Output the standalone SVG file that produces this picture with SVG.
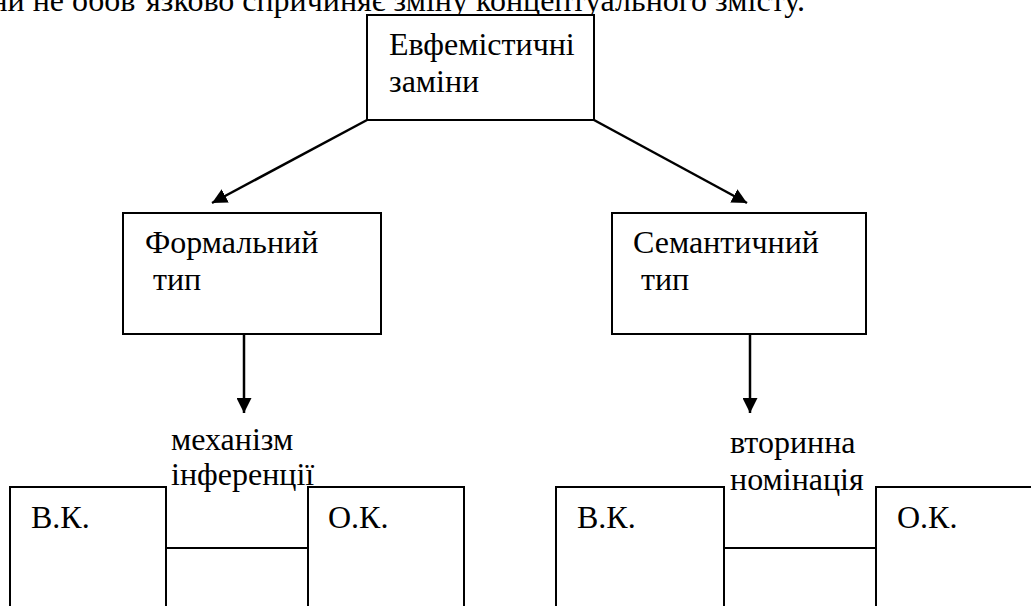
<svg xmlns="http://www.w3.org/2000/svg" width="1031" height="606" viewBox="0 0 1031 606">
  <style>
    .box { fill: #ffffff; stroke: #000000; stroke-width: 2; }
    .t { font-family: "Liberation Serif", "Times New Roman", serif; font-size: 32px; fill: #000000; }
    .ln { stroke: #000000; stroke-width: 2.5; fill: none; }
    .thin { stroke: #000000; stroke-width: 2; fill: none; }
  </style>
  <defs>
    <marker id="ah" viewBox="0 0 10 10" refX="10" refY="5" markerWidth="6" markerHeight="6" markerUnits="strokeWidth" orient="auto">
      <path d="M0,0 L10,5 L0,10 Z" fill="#000000"/>
    </marker>
  </defs>
  <rect width="1031" height="606" fill="#ffffff"/>

  <text class="t" x="805" y="11" text-anchor="end">ни не обов’язково спричиняє зміну концептуального змісту.</text>

  <g id="node-evfem">
    <rect class="box" x="367" y="15" width="227" height="105"/>
    <text class="t" x="389" y="55">Евфемістичні</text>
    <text class="t" x="389" y="92">заміни</text>
  </g>

  <g id="node-formal">
    <rect class="box" x="123" y="213" width="258" height="121"/>
    <text class="t" x="145" y="253">Формальний</text>
    <text class="t" x="145" y="290" xml:space="preserve"> тип</text>
  </g>

  <g id="node-semantic">
    <rect class="box" x="612" y="213" width="254" height="121"/>
    <text class="t" x="633" y="253">Семантичний</text>
    <text class="t" x="633" y="290" xml:space="preserve"> тип</text>
  </g>

  <g id="node-vk1">
    <rect class="box" x="10" y="487" width="156" height="140"/>
    <text class="t" x="31" y="528">В.К.</text>
  </g>
  <g id="node-ok1">
    <rect class="box" x="308" y="487" width="156" height="140"/>
    <text class="t" x="328" y="528">О.К.</text>
  </g>
  <g id="node-vk2">
    <rect class="box" x="556" y="487" width="168" height="140"/>
    <text class="t" x="577" y="528">В.К.</text>
  </g>
  <g id="node-ok2">
    <rect class="box" x="876" y="487" width="170" height="140"/>
    <text class="t" x="897" y="528">О.К.</text>
  </g>

  <g id="label-mech">
    <text class="t" x="171" y="450">механізм</text>
    <text class="t" x="171" y="485">інференції</text>
  </g>
  <g id="label-nom">
    <text class="t" x="730" y="453">вторинна</text>
    <text class="t" x="730" y="490">номінація</text>
  </g>

  <g id="connectors">
    <line class="ln" x1="367" y1="120" x2="212" y2="203" marker-end="url(#ah)"/>
    <line class="ln" x1="594" y1="120" x2="747" y2="203" marker-end="url(#ah)"/>
    <line class="ln" x1="244" y1="334" x2="244" y2="413" marker-end="url(#ah)"/>
    <line class="ln" x1="750" y1="334" x2="750" y2="413" marker-end="url(#ah)"/>
    <line class="thin" x1="166" y1="548" x2="308" y2="548"/>
    <line class="thin" x1="724" y1="548" x2="876" y2="548"/>
  </g>
</svg>
